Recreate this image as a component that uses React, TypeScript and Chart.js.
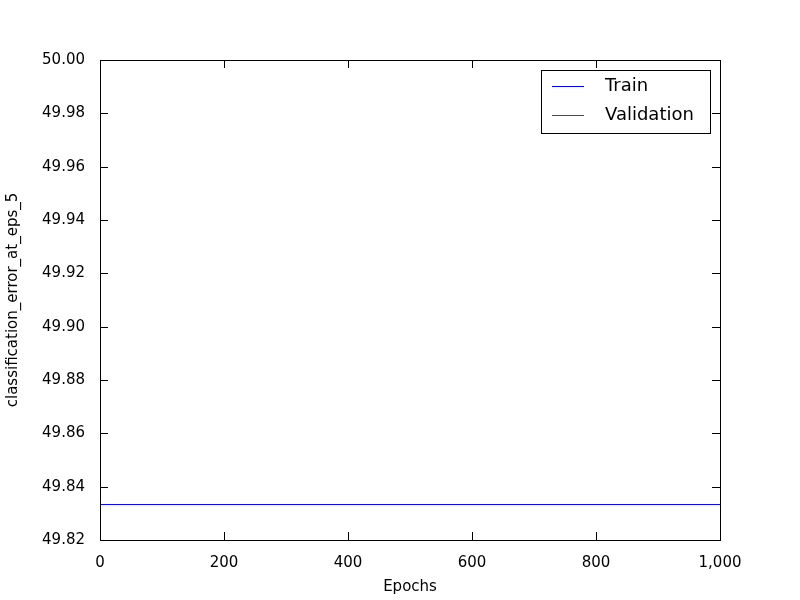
import React, { useEffect, useRef } from 'react';
import Chart from 'chart.js/auto';

const epochs = [0, 250, 500, 750, 1000];
const trainError = [49.8333, 49.8333, 49.8333, 49.8333, 49.8333];
const validationError = [50.1, 50.1, 50.1, 50.1, 50.1];
const yTicks = [49.82, 49.84, 49.86, 49.88, 49.9, 49.92, 49.94, 49.96, 49.98, 50.0];
const xTicks = [0, 200, 400, 600, 800, 1000];

const FONT = 'DejaVu Sans';

const framePlugin = {
  id: 'frame',
  afterDraw(chart: any) {
    const { ctx, chartArea: a, scales } = chart;
    ctx.save();
    ctx.strokeStyle = '#000';
    ctx.lineWidth = 1;
    ctx.strokeRect(a.left + 0.5, a.top + 0.5, a.right - a.left, a.bottom - a.top);
    ctx.beginPath();
    yTicks.forEach((v) => {
      const y = Math.round(scales.y.getPixelForValue(v)) + 0.5;
      ctx.moveTo(a.left, y); ctx.lineTo(a.left + 8, y);
      ctx.moveTo(a.right, y); ctx.lineTo(a.right - 8, y);
    });
    xTicks.forEach((v) => {
      const x = Math.round(scales.x.getPixelForValue(v)) + 0.5;
      ctx.moveTo(x, a.bottom); ctx.lineTo(x, a.bottom - 8);
      ctx.moveTo(x, a.top); ctx.lineTo(x, a.top + 8);
    });
    ctx.stroke();

    // legend
    ctx.fillStyle = '#fff';
    ctx.fillRect(541, 70, 169, 63);
    ctx.strokeRect(541.5, 70.5, 169, 63);
    const items = [
      { label: 'Train', color: '#0000ff', y: 86 },
      { label: 'Validation', color: '#007f00', y: 115 },
    ];
    ctx.font = `18px ${FONT}`;
    ctx.textBaseline = 'middle';
    items.forEach((it) => {
      ctx.strokeStyle = it.color;
      ctx.beginPath();
      ctx.moveTo(552, it.y + 0.5); ctx.lineTo(584, it.y + 0.5);
      ctx.stroke();
      ctx.fillStyle = '#000';
      ctx.fillText(it.label, 605, it.y);
    });
    ctx.restore();
  },
};

export default function App() {
  const canvasRef = useRef<HTMLCanvasElement>(null);

  useEffect(() => {
    document.body.style.margin = '0';
    if (!canvasRef.current) return;
    const chart = new Chart(canvasRef.current, {
      type: 'line',
      data: {
        datasets: [
          {
            label: 'Train',
            data: epochs.map((e, i) => ({ x: e, y: trainError[i] })),
            borderColor: '#0000ff',
            borderWidth: 1,
            pointRadius: 0,
          },
          {
            label: 'Validation',
            data: epochs.map((e, i) => ({ x: e, y: validationError[i] })),
            borderColor: '#007f00',
            borderWidth: 1,
            pointRadius: 0,
          },
        ],
      },
      options: {
        responsive: false,
        animation: false,
        layout: { padding: { left: 0, top: 60, right: 80, bottom: 0 } },
        plugins: { legend: { display: false }, tooltip: { enabled: false } },
        scales: {
          x: {
            type: 'linear',
            min: 0,
            max: 1000,
            grid: { display: false },
            border: { display: false },
            afterFit: (s: any) => { s.height = 60; },
            afterBuildTicks: (s: any) => { s.ticks = xTicks.map((v) => ({ value: v })); },
            ticks: { color: '#000', font: { family: FONT, size: 15 }, padding: 6, maxRotation: 0 },
            title: { display: true, text: 'Epochs', color: '#000', font: { family: FONT, size: 15 }, padding: { top: 4 } },
          },
          y: {
            min: 49.82,
            max: 50.0,
            grid: { display: false },
            border: { display: false },
            afterFit: (s: any) => { s.width = 100; },
            afterBuildTicks: (s: any) => { s.ticks = yTicks.map((v) => ({ value: v })); },
            ticks: { color: '#000', font: { family: FONT, size: 15 }, padding: 7, callback: (v: any) => Number(v).toFixed(2) },
            title: { display: true, text: 'classification_error_at_eps_5', color: '#000', font: { family: FONT, size: 15 }, padding: { bottom: 4 } },
          },
        },
      },
      plugins: [framePlugin],
    });
    return () => chart.destroy();
  }, []);

  return <canvas ref={canvasRef} width={800} height={600} style={{ display: 'block' }} />;
}
